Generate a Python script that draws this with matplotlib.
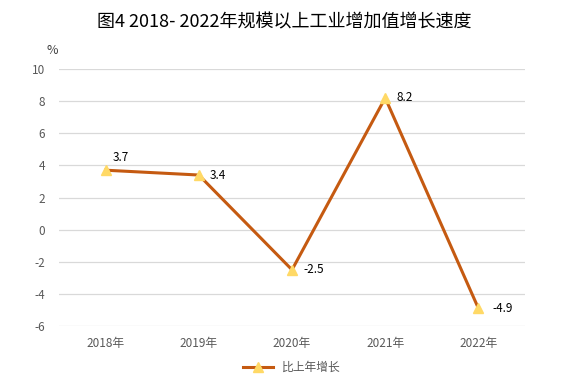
import matplotlib
matplotlib.use("Agg")
import matplotlib.pyplot as plt

plt.rcParams['font.family'] = ['Noto Sans CJK SC', 'DejaVu Sans']
plt.rcParams['axes.unicode_minus'] = False

title = "图4 2018- 2022年规模以上工业增加值增长速度"
categories = ["2018年", "2019年", "2020年", "2021年", "2022年"]
values = [3.7, 3.4, -2.5, 8.2, -4.9]
series_name = "比上年增长"
yticks = [-6, -4, -2, 0, 2, 4, 6, 8, 10]

fig = plt.figure(figsize=(5.69, 3.86), dpi=100)
ax = fig.add_axes([0.1037, 0.1554, 0.8190, 0.6658])

x = list(range(len(categories)))
ax.plot(x, values, color="#C55A11", linewidth=2.2, marker="^", markersize=7,
        markerfacecolor="#FFD966", markeredgecolor="#FFD966", label=series_name, zorder=3)

offsets = [(5, 9), (8, 0), (8, 0), (8, 0), (10, 0)]
for xi, v, off in zip(x, values, offsets):
    ax.annotate(f"{v}", (xi, v), xytext=off, textcoords="offset points",
                fontsize=8.5, color="#000000", va="center", ha="left")

ax.set_xlim(-0.5, len(categories) - 0.5)
ax.set_ylim(-6, 10)
ax.set_yticks(yticks)
ax.set_xticks(x)
ax.set_xticklabels(categories)
ax.grid(axis="y", color="#D9D9D9", linewidth=0.9)
ax.set_axisbelow(True)
for s in ax.spines.values():
    s.set_visible(False)
ax.tick_params(axis="both", length=0, labelsize=8.5, colors="#595959")
ax.tick_params(axis="y", pad=10)
ax.tick_params(axis="x", pad=8)

fig.text(52 / 569, 1 - 50 / 386, "%", fontsize=9, color="#404040", ha="center", va="center")
fig.text(0.5, 1 - 22 / 386, title, fontsize=13, color="#000000", ha="center", va="center")

leg = ax.legend(loc="center", bbox_to_anchor=(0.5, -0.16), frameon=False,
                fontsize=8.5, handlelength=2.5, labelcolor="#595959")

fig.savefig("out.png", dpi=100)
